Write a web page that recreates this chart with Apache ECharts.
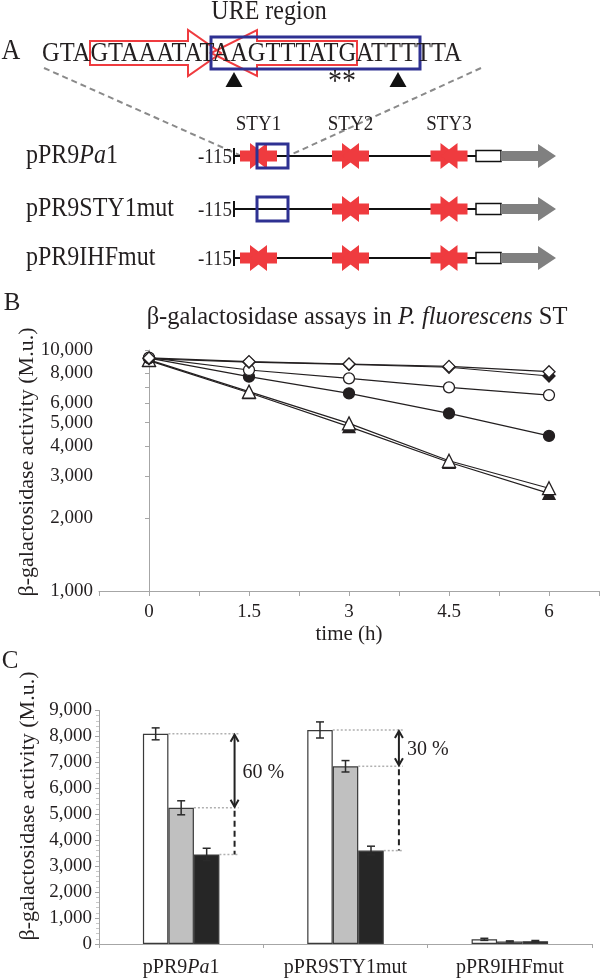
<!DOCTYPE html>
<html><head><meta charset="utf-8">
<script src="https://cdn.jsdelivr.net/npm/echarts@6/dist/echarts.min.js"></script>
<style>html,body{margin:0;padding:0;background:#fff}#c{width:600px;height:978px}</style>
</head><body><div id="c"></div>
<script>
// ---------- Panel A (schematic) ----------
const sequence = 'GTAGTAAATATAAGTTTATGATTTTTA';
const regionLabel = 'URE region';
const siteLabels = ['STY1', 'STY2', 'STY3'];
const constructRows = ['pPR9Pa1', 'pPR9STY1mut', 'pPR9IHFmut'];
const startLabel = '-115';

// ---------- Panel B (time course, log scale) ----------
const timePoints = [0, 1.5, 3, 4.5, 6];
const openDiamond = [9270, 8950, 8750, 8550, 8130];
const filledDiamond = [9200, 8900, 8720, 8480, 7800];
const openCircle = [9300, 8260, 7630, 7000, 6500];
const filledCircle = [9250, 7750, 6610, 5460, 4400];
const openTriangle = [9100, 6720, 4960, 3470, 2670];
const filledTriangle = [9030, 6650, 4810, 3420, 2540];
const bTickValues = [1000, 2000, 3000, 4000, 5000, 6000, 7000, 8000, 9000, 10000];
const bLabelValues = [1000, 2000, 3000, 4000, 5000, 6000, 8000, 10000];
const bXLabels = [0, 1.5, 3, 4.5, 6];

// ---------- Panel C (bars) ----------
const constructs = ['pPR9Pa1', 'pPR9STY1mut', 'pPR9IHFmut'];
const whiteVals = [8100, 8250, 180];
const whiteErr = [230, 310, 40];
const greyVals = [5250, 6850, 100];
const greyErr = [270, 220, 20];
const blackVals = [3450, 3600, 110];
const blackErr = [240, 170, 25];
const reductionLabels = ['60 %', '30 %'];

const FONT = "'Liberation Serif','Times New Roman',serif";
const INK = '#231f20';
const AXIS = '#a6a6a6';
const RED = '#ef3b3f';
const BLUE = '#2e3192';
const SY = 1.15; // vertical stretch of panel A lettering

const chart = echarts.init(document.getElementById('c'), null, {renderer: 'canvas'});

function comma(v) { return Math.round(v).toString().replace(/\B(?=(\d{3})+(?!\d))/g, ','); }
function pairs(vals) { return timePoints.map((t, i) => [t, vals[i]]); }
function lineSeries(name, vals, symbol, size, filled, z) {
  return {
    type: 'line', name, xAxisIndex: 0, yAxisIndex: 0, data: pairs(vals),
    symbol, symbolSize: size, z,
    lineStyle: {color: INK, width: 1.2},
    itemStyle: {color: filled ? INK : '#fff', borderColor: INK, borderWidth: 1.3},
    emphasis: {disabled: true}, animation: false
  };
}
const BAR_W = 25.5;
function barSeries(vals, color) {
  return {
    type: 'bar', xAxisIndex: 1, yAxisIndex: 1, data: vals, barWidth: BAR_W, barGap: '0%',
    itemStyle: {color, borderColor: '#3a3a3a', borderWidth: 1.2}, z: 2, animation: false
  };
}
function errSeries(vals, errs, idx) {
  return {
    type: 'custom', xAxisIndex: 1, yAxisIndex: 1, z: 5, animation: false,
    data: vals.map((v, i) => [i, v - errs[i], v + errs[i]]),
    renderItem: function (params, api) {
      const off = (idx - 1) * BAR_W;
      const lo = api.coord([api.value(0), api.value(1)]);
      const hi = api.coord([api.value(0), api.value(2)]);
      const x = lo[0] + off, cw = 4;
      const st = {stroke: '#2a2a2a', lineWidth: 1.5};
      return {type: 'group', children: [
        {type: 'line', shape: {x1: x, y1: lo[1], x2: x, y2: hi[1]}, style: st},
        {type: 'line', shape: {x1: x - cw, y1: lo[1], x2: x + cw, y2: lo[1]}, style: st},
        {type: 'line', shape: {x1: x - cw, y1: hi[1], x2: x + cw, y2: hi[1]}, style: st}
      ]};
    }
  };
}

const option = {
  animation: false,
  textStyle: {fontFamily: FONT, color: INK},
  grid: [
    {left: 99, top: 350, width: 500, height: 241, containLabel: false, outerBoundsMode: 'none'},
    {left: 99, top: 710.5, width: 493, height: 233.5, containLabel: false, outerBoundsMode: 'none'}
  ],
  xAxis: [
    {type: 'value', gridIndex: 0, min: -0.75, max: 6.75, interval: 0.75,
     axisLine: {show: true, lineStyle: {color: AXIS, width: 1}},
     axisTick: {show: true, length: 5, lineStyle: {color: AXIS}},
     splitLine: {show: false},
     axisLabel: {margin: 12, fontSize: 19, fontFamily: FONT, color: INK, showMinLabel: true, showMaxLabel: true,
       formatter: function (v) {
         const r = +(+v).toFixed(2);
         return bXLabels.indexOf(r) >= 0 ? String(r) : '';
       }}},
    {type: 'category', gridIndex: 1, data: constructs,
     axisLine: {show: true, lineStyle: {color: AXIS, width: 1}},
     axisTick: {show: true, length: 4, lineStyle: {color: AXIS}},
     splitLine: {show: false},
     axisLabel: {margin: 14, fontSize: 20, fontFamily: FONT, color: INK, interval: 0,
       formatter: function (v) {
         if (v === 'pPR9Pa1') return '{n|pPR9}{i|Pa}{n|1}';
         return '{n|' + v + '}';
       },
       rich: {n: {fontSize: 20, fontFamily: FONT, color: INK},
              i: {fontSize: 20, fontFamily: FONT, fontStyle: 'italic', color: INK}}}}
  ],
  yAxis: [
    {type: 'log', gridIndex: 0, logBase: 10, min: 1000, max: 10000,
     axisLine: {show: true, lineStyle: {color: AXIS, width: 1}},
     axisTick: {show: true, length: 4, lineStyle: {color: AXIS}, customValues: bTickValues},
     splitLine: {show: false}, minorTick: {show: false},
     axisLabel: {margin: 6, fontSize: 19, fontFamily: FONT, color: INK, customValues: bLabelValues,
       formatter: function (v) { return comma(v); }}},
    {type: 'value', gridIndex: 1, min: 0, max: 9000, interval: 1000,
     axisLine: {show: true, lineStyle: {color: AXIS, width: 1}},
     axisTick: {show: true, length: 4, lineStyle: {color: AXIS}},
     minorTick: {show: true, splitNumber: 5, length: 3, lineStyle: {color: '#c8c8c8'}},
     splitLine: {show: false},
     axisLabel: {margin: 7, fontSize: 19, fontFamily: FONT, color: INK,
       formatter: function (v) { return comma(v); }}}
  ],
  series: [
    lineSeries('filledTriangle', filledTriangle, 'triangle', 12, true, 3),
    lineSeries('openTriangle', openTriangle, 'triangle', 13, false, 4),
    lineSeries('filledCircle', filledCircle, 'circle', 11, true, 5),
    lineSeries('openCircle', openCircle, 'circle', 11, false, 6),
    lineSeries('filledDiamond', filledDiamond, 'diamond', 12, true, 7),
    lineSeries('openDiamond', openDiamond, 'diamond', 12, false, 8),
    barSeries(whiteVals, '#ffffff'),
    barSeries(greyVals, '#c0c0c0'),
    barSeries(blackVals, '#262626'),
    errSeries(whiteVals, whiteErr, 0),
    errSeries(greyVals, greyErr, 1),
    errSeries(blackVals, blackErr, 2)
  ]
};
chart.setOption(option);

// ---------- graphic: panel A + titles + panel C annotations ----------
const G = [];
function txt(text, x, y, size, opts) {
  opts = opts || {};
  G.push({type: 'text', x, y, rotation: opts.rotation || 0, scaleY: opts.sy || 1, z: 20,
    style: Object.assign({text, fontSize: size, fontFamily: FONT, fill: INK,
      textAlign: opts.align || 'left', textVerticalAlign: opts.valign || 'middle'}, opts.style || {})});
}
function poly(points, style, z) { G.push({type: 'polygon', z: z || 10, shape: {points}, style}); }
function seg(x1, y1, x2, y2, style, z) { G.push({type: 'line', z: z || 10, shape: {x1, y1, x2, y2}, style}); }
function rect(x, y, w, h, style, z) { G.push({type: 'rect', z: z || 10, shape: {x, y, width: w, height: h}, style}); }

// Panel letters
txt('A', 11, 51, 26, {align: 'center', sy: SY});
txt('B', 12, 303, 25, {align: 'center'});
txt('C', 10, 661, 25, {align: 'center'});

// URE header
txt(regionLabel, 269, 12, 24, {align: 'center', sy: SY});
// dashed zoom lines
const dashGrey = {stroke: '#8a8a8a', lineWidth: 2, lineDash: [6, 4]};
seg(44, 68, 244, 157, dashGrey, 5);
seg(481, 68, 288, 156, dashGrey, 5);
// sequence
txt(sequence, 42, 54, 24.5, {sy: SY});
// inverted repeat arrows (outline)
const redLine = {stroke: RED, lineWidth: 2, fill: null};
poly([[90, 41], [188, 41], [188, 30], [221, 53], [188, 76], [188, 65], [90, 65]], redLine, 12);
poly([[357, 41], [257, 41], [257, 30], [211, 53], [257, 76], [257, 65], [357, 65]], redLine, 12);
rect(211, 37, 209, 32, {stroke: BLUE, lineWidth: 3, fill: null}, 13);
// triangles and asterisks
[234, 398].forEach(cx => poly([[cx - 8.5, 87], [cx + 8.5, 87], [cx, 72]], {fill: '#111'}, 12));
txt('**', 342, 83, 28, {align: 'center', sy: SY});

// site labels
const siteX = [258.5, 350.5, 449];
siteLabels.forEach((s, i) => txt(s, siteX[i], 124, 19, {align: 'center', sy: SY}));

// construct rows
const rowY = [156, 209, 258];
const rowSites = [[true, true, true], [false, true, true], [true, true, true]];
const rowBox = [true, true, false];
function xShape(c, y) {
  const s = {fill: RED};
  const hh = 13, bh = 5.5;
  poly([[c - 18.5, y - bh], [c - 8.5, y - bh], [c - 8.5, y - hh], [c + 8.5, y], [c - 8.5, y + hh], [c - 8.5, y + bh], [c - 18.5, y + bh]], s, 14);
  poly([[c + 18.5, y - bh], [c + 8.5, y - bh], [c + 8.5, y - hh], [c - 8.5, y], [c + 8.5, y + hh], [c + 8.5, y + bh], [c + 18.5, y + bh]], s, 14);
}
constructRows.forEach((name, r) => {
  const y = rowY[r];
  if (name === 'pPR9Pa1') {
    G.push({type: 'text', x: 26, y, scaleY: SY, z: 20, style: {text: '{n|pPR9}{i|Pa}{n|1}', fontSize: 24, fontFamily: FONT, fill: INK,
      textAlign: 'left', textVerticalAlign: 'middle',
      rich: {n: {fontSize: 24, fontFamily: FONT, fill: INK}, i: {fontSize: 24, fontFamily: FONT, fontStyle: 'italic', fill: INK}}}});
  } else {
    txt(name, 26, y, 24, {sy: SY});
  }
  txt(startLabel, 232, y + 1, 19, {align: 'right', sy: SY});
  seg(234, y - 8, 234, y + 8, {stroke: '#111', lineWidth: 2}, 11);
  seg(234, y, 477, y, {stroke: '#111', lineWidth: 2}, 11);
  rowSites[r].forEach((on, k) => { if (on) xShape(siteX[k], y); });
  if (rowBox[r]) rect(257, y - 12, 31, 24, {stroke: BLUE, lineWidth: 3, fill: null}, 15);
  rect(476, y - 5.5, 25, 11, {stroke: '#111', lineWidth: 1.5, fill: '#fff'}, 12);
  poly([[501, y - 5], [538, y - 5], [538, y - 12], [556, y], [538, y + 12], [538, y + 5], [501, y + 5]], {fill: '#808080'}, 12);
});

// Panel B title and axis titles
G.push({type: 'text', x: 357, y: 318, z: 20, style: {
  text: '{n|β-galactosidase assays in }{i|P. fluorescens}{n| ST}', fontSize: 24.5, fontFamily: FONT, fill: INK,
  textAlign: 'center', textVerticalAlign: 'middle',
  rich: {n: {fontSize: 24.5, fontFamily: FONT, fill: INK}, i: {fontSize: 24.5, fontFamily: FONT, fontStyle: 'italic', fill: INK}}}});
txt('β-galactosidase activity (M.u.)', 27, 462, 22, {align: 'center', rotation: Math.PI / 2});
txt('time (h)', 349, 634, 21, {align: 'center'});
txt('β-galactosidase activity (M.u.)', 28, 806, 22, {align: 'center', rotation: Math.PI / 2});

// Panel C annotations from data through the chart's scales
function px(cat, val) { return chart.convertToPixel({xAxisIndex: 1, yAxisIndex: 1}, [cat, val]); }
const band = px(1, 0)[0] - px(0, 0)[0];
const dotted = {stroke: '#b0b0b0', lineWidth: 1.5, lineDash: [2, 2]};
const arrowSt = {stroke: '#222', lineWidth: 2, fill: null};
[0, 1].forEach(k => {
  const w = px(k, whiteVals[k]), g = px(k, greyVals[k]), b = px(k, blackVals[k]);
  const c = w[0];
  const ax = c + band * 0.325;
  seg(c - BAR_W / 2, w[1], ax + 4, w[1], dotted, 8);
  seg(c + BAR_W / 2, g[1], ax + 4, g[1], dotted, 8);
  seg(c + 1.5 * BAR_W, b[1], ax + 4, b[1], dotted, 8);
  seg(ax, w[1] + 1, ax, g[1] - 1, arrowSt, 9);
  G.push({type: 'polyline', z: 9, shape: {points: [[ax - 4, w[1] + 8], [ax, w[1] + 1], [ax + 4, w[1] + 8]]}, style: arrowSt});
  G.push({type: 'polyline', z: 9, shape: {points: [[ax - 4, g[1] - 8], [ax, g[1] - 1], [ax + 4, g[1] - 8]]}, style: arrowSt});
  seg(ax, g[1] + 3, ax, b[1], {stroke: '#222', lineWidth: 2, lineDash: [6, 4]}, 9);
  txt(reductionLabels[k], ax + 8, (w[1] + g[1]) / 2 + 2, 20, {});
});

chart.setOption({graphic: G});
</script></body></html>
